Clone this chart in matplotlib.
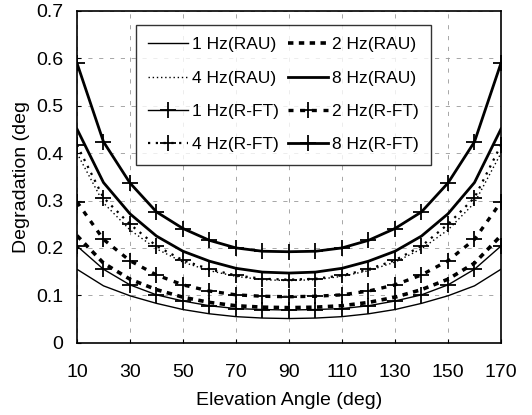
import matplotlib
matplotlib.use("Agg")
import matplotlib.pyplot as plt

# elevation angles (deg)
angles = [10, 20, 30, 40, 50, 60, 70, 80, 90, 100, 110, 120, 130, 140, 150, 160, 170]

# degradation (deg)
rau_1hz = [0.155, 0.120, 0.099, 0.083, 0.070, 0.061, 0.055, 0.052, 0.051,
           0.052, 0.055, 0.061, 0.070, 0.083, 0.099, 0.120, 0.155]
rau_2hz = [0.226, 0.168, 0.134, 0.112, 0.096, 0.085, 0.078, 0.075, 0.074,
           0.075, 0.078, 0.085, 0.096, 0.112, 0.134, 0.168, 0.226]
rau_4hz = [0.400, 0.295, 0.238, 0.198, 0.170, 0.152, 0.140, 0.133, 0.131,
           0.133, 0.140, 0.152, 0.170, 0.198, 0.238, 0.295, 0.400]
rau_8hz = [0.451, 0.338, 0.272, 0.225, 0.193, 0.172, 0.157, 0.149, 0.147,
           0.149, 0.157, 0.172, 0.193, 0.225, 0.272, 0.338, 0.451]
rft_1hz = [0.204, 0.155, 0.122, 0.101, 0.088, 0.078, 0.072, 0.070, 0.069,
           0.070, 0.072, 0.078, 0.088, 0.101, 0.122, 0.155, 0.204]
rft_2hz = [0.297, 0.218, 0.173, 0.143, 0.122, 0.109, 0.101, 0.098, 0.097,
           0.098, 0.101, 0.109, 0.122, 0.143, 0.173, 0.218, 0.297]
rft_4hz = [0.417, 0.306, 0.250, 0.204, 0.174, 0.155, 0.142, 0.135, 0.133,
           0.135, 0.142, 0.155, 0.174, 0.204, 0.250, 0.306, 0.417]
rft_8hz = [0.590, 0.424, 0.337, 0.276, 0.241, 0.216, 0.200, 0.193, 0.192,
           0.193, 0.200, 0.216, 0.241, 0.276, 0.337, 0.424, 0.590]

xticks = [10, 30, 50, 70, 90, 110, 130, 150, 170]
yticks = [0, 0.1, 0.2, 0.3, 0.4, 0.5, 0.6, 0.7]

plt.rcParams['font.family'] = ['Liberation Sans', 'DejaVu Sans']

fig = plt.figure(figsize=(5.32, 4.15), dpi=100)
ax = fig.add_axes([0.1447, 0.1742, 0.797, 0.7993])

series = [
    # label, data, linestyle, linewidth, marker
    ('1 Hz(RAU)', rau_1hz, '-', 1.0, None),
    ('4 Hz(RAU)', rau_4hz, (0, (1, 2)), 1.0, None),
    ('1 Hz(R-FT)', rft_1hz, '-', 1.0, '+'),
    ('4 Hz(R-FT)', rft_4hz, (0, (1, 2.5)), 1.6, '+'),
    ('2 Hz(RAU)', rau_2hz, (0, (1.5, 1.5)), 2.6, None),
    ('8 Hz(RAU)', rau_8hz, '-', 2.0, None),
    ('2 Hz(R-FT)', rft_2hz, (0, (1.5, 2)), 2.4, '+'),
    ('8 Hz(R-FT)', rft_8hz, '-', 2.0, '+'),
]

for lab, vals, ls, lw, mk in series:
    ax.plot(angles, vals, color='black', linestyle=ls, linewidth=lw,
            marker=mk, markersize=11, markeredgewidth=1.3, label=lab)

ax.set_xlim(10, 170)
ax.set_ylim(0, 0.7)
ax.set_xticks(xticks)
ax.set_yticks(yticks)
ax.set_yticklabels(['0', '0.1', '0.2', '0.3', '0.4', '0.5', '0.6', '0.7'])
ax.tick_params(axis='both', direction='in', length=3, labelsize=14)
ax.tick_params(axis='x', pad=15)
ax.tick_params(axis='y', pad=10)
ax.grid(True, color='0.6', linestyle=(0, (5, 8)), linewidth=0.6)
ax.set_axisbelow(True)
for sp in ax.spines.values():
    sp.set_linewidth(1.2)

ax.set_xlabel('Elevation Angle (deg)', fontsize=14, labelpad=8)
ax.set_ylabel('Degradation (deg', fontsize=14, labelpad=4)

leg = ax.legend(ncol=2, loc='upper left', bbox_to_anchor=(0.139, 0.958),
                fontsize=12.5, frameon=True, fancybox=False, handlelength=2.3,
                handletextpad=0.25, columnspacing=0.5, labelspacing=1.05,
                borderpad=0.7, borderaxespad=0)
leg.get_frame().set_edgecolor('black')
leg.get_frame().set_linewidth(1.0)

plt.savefig('out.png', dpi=100)
